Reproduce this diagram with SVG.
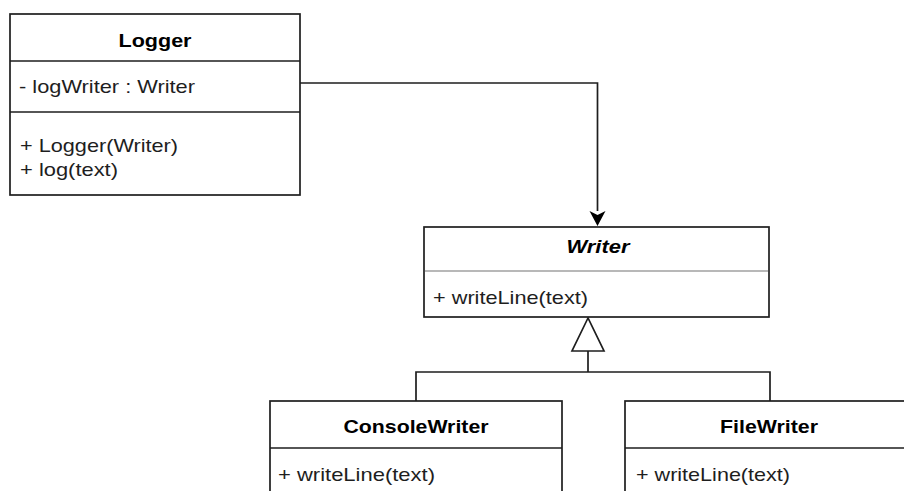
<svg xmlns="http://www.w3.org/2000/svg" width="904" height="491" viewBox="0 0 904 491">
<style>
.box{fill:#fff;stroke:#1e1e1e;stroke-width:1.7}
.div{stroke:#1e1e1e;stroke-width:1.7;fill:none}
.divl{stroke:#a0a0a0;stroke-width:1.6;fill:none}
.t{font-family:"Liberation Sans",Arial,sans-serif;font-size:19px;fill:#1e1e1e}
.b{font-weight:bold;text-anchor:middle;fill:#000}
.i{font-style:italic}
.edge{stroke:#1e1e1e;stroke-width:1.7;fill:none}
</style>
<g id="connectors">
<path class="edge" d="M300,83 H597.5 V211"/>
<path d="M589.5,211 L597.5,215 L605.5,211 L597.5,226 Z" fill="#000"/>
<path class="edge" d="M588,351 V372 M416,401 V372 H770 V401"/>
<polygon points="588,318 572,351 604,351" fill="#fff" stroke="#1e1e1e" stroke-width="1.7"/>
</g>
<g id="logger">
<rect class="box" x="10" y="14" width="290" height="181"/>
<line class="div" x1="10" y1="61" x2="300" y2="61"/>
<line class="div" x1="10" y1="112" x2="300" y2="112"/>
<text class="t b" x="155" y="47" textLength="73" lengthAdjust="spacingAndGlyphs">Logger</text>
<text class="t" x="19" y="92.5" textLength="176" lengthAdjust="spacingAndGlyphs">- logWriter : Writer</text>
<text class="t" x="20" y="152" textLength="158" lengthAdjust="spacingAndGlyphs">+ Logger(Writer)</text>
<text class="t" x="20" y="175.5" textLength="98" lengthAdjust="spacingAndGlyphs">+ log(text)</text>
</g>
<g id="writer">
<rect class="box" x="424" y="227" width="345" height="90"/>
<line class="divl" x1="425" y1="271" x2="768" y2="271"/>
<text class="t b i" x="598" y="253" textLength="63" lengthAdjust="spacingAndGlyphs">Writer</text>
<text class="t" x="433" y="304" textLength="155" lengthAdjust="spacingAndGlyphs">+ writeLine(text)</text>
</g>
<g id="consolewriter">
<rect class="box" x="270" y="401" width="292" height="110"/>
<line class="div" x1="270" y1="448" x2="562" y2="448"/>
<text class="t b" x="416" y="433" textLength="145" lengthAdjust="spacingAndGlyphs">ConsoleWriter</text>
<text class="t" x="278" y="481" textLength="157" lengthAdjust="spacingAndGlyphs">+ writeLine(text)</text>
</g>
<g id="filewriter">
<rect class="box" x="625" y="401" width="292" height="110"/>
<line class="div" x1="625" y1="448" x2="917" y2="448"/>
<text class="t b" x="769" y="433" textLength="98" lengthAdjust="spacingAndGlyphs">FileWriter</text>
<text class="t" x="636" y="481" textLength="154" lengthAdjust="spacingAndGlyphs">+ writeLine(text)</text>
</g>
</svg>
